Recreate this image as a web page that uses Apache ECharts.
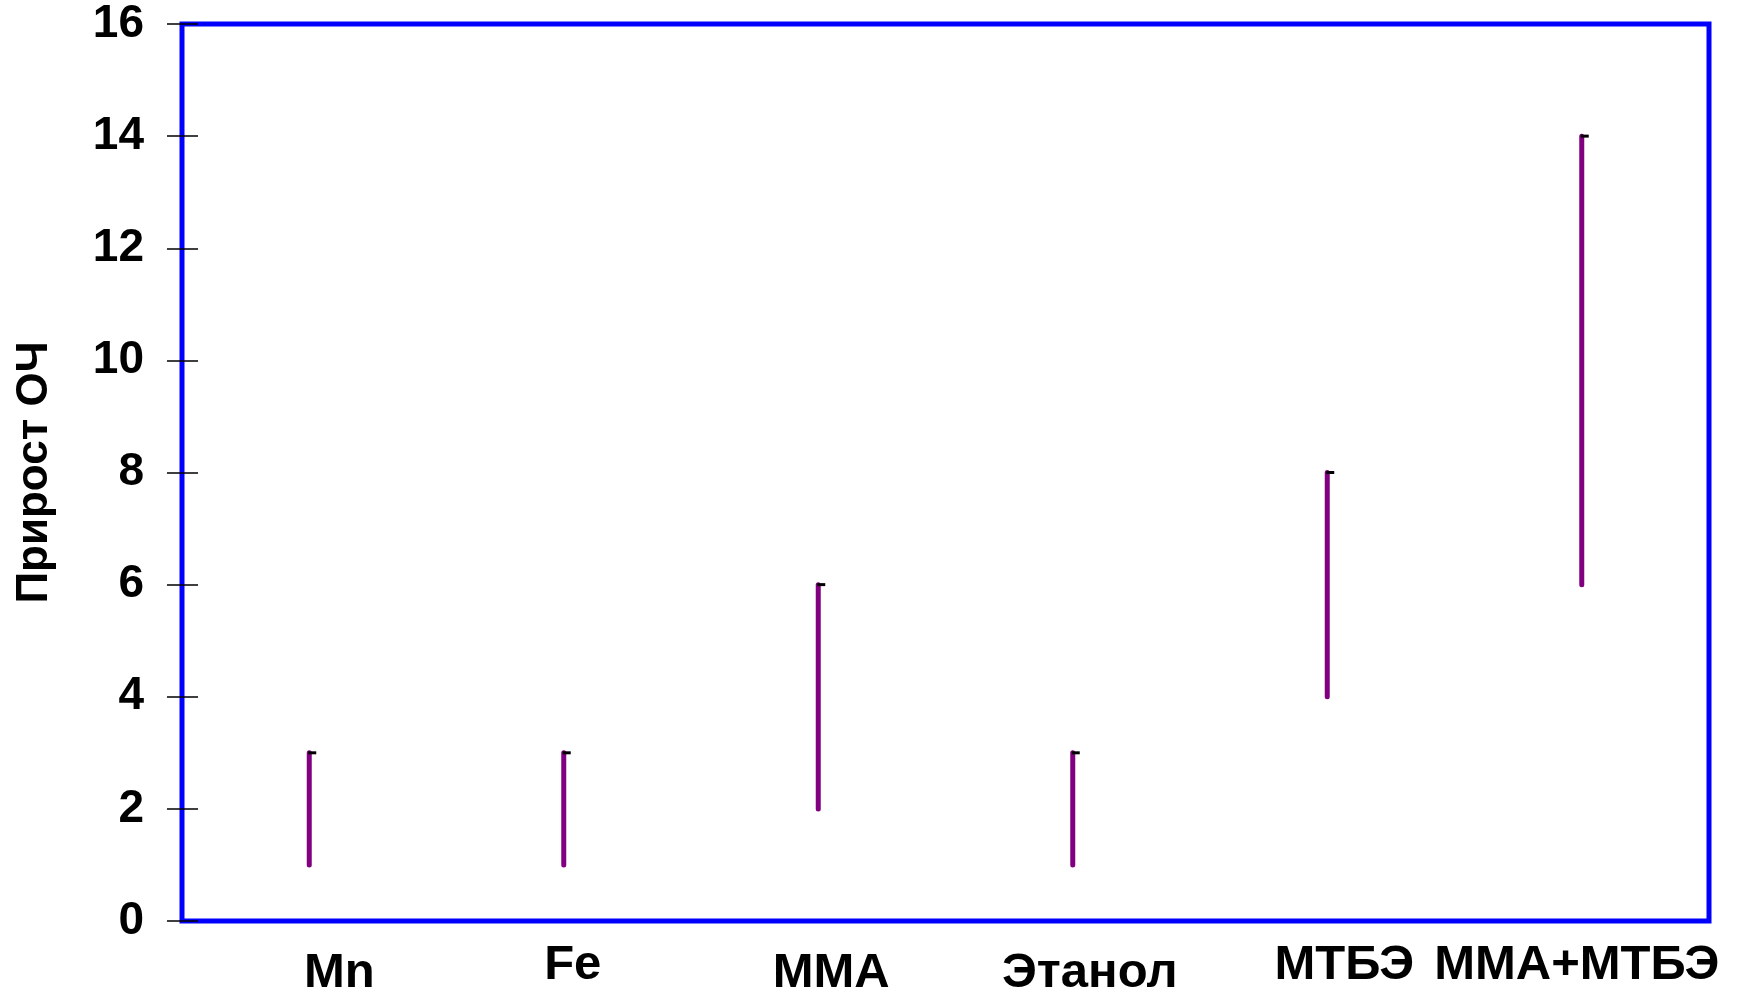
<!DOCTYPE html>
<html>
<head>
<meta charset="utf-8">
<script src="https://cdn.jsdelivr.net/npm/echarts@6/dist/echarts.min.js"></script>
<style>
  html, body { margin: 0; padding: 0; background: #fff; }
  #chart { width: 1740px; height: 994px; }
</style>
</head>
<body>
<div id="chart"></div>
<script>
// categories and high-low ranges (прирост ОЧ)
var categories = ['Mn', 'Fe', 'MMA', 'Этанол', 'МТБЭ', 'MMA+МТБЭ'];
var lowValues = [1, 1, 2, 1, 4, 6];
var highValues = [3, 3, 6, 3, 8, 14];
var yTicks = [0, 2, 4, 6, 8, 10, 12, 14, 16];
var yTitle = 'Прирост ОЧ';

// label nudges, as in the original picture
var labelRich = {
  l0: { padding: [8, 0, 0, 60] },
  l1: { padding: [0, 0, 0, 18] },
  l2: { padding: [8, 0, 0, 26] },
  l3: { padding: [8, 0, 0, 34] },
  l4: { padding: [0, 0, 0, 34] },
  l5: { padding: [0, 10, 0, 0] }
};
Object.keys(labelRich).forEach(function (k) {
  labelRich[k].fontSize = 49;
  labelRich[k].fontWeight = 'bold';
  labelRich[k].color = '#000';
  labelRich[k].fontFamily = '"Liberation Sans", Arial, sans-serif';
});

var rangeData = categories.map(function (c, i) {
  return [i, lowValues[i], highValues[i]];
});

var chart = echarts.init(document.getElementById('chart'));

chart.setOption({
  backgroundColor: '#fff',
  animation: false,
  grid: {
    left: 182,
    top: 24,
    right: 31,
    bottom: 73,
    outerBoundsMode: 'none',
    containLabel: false,
    show: true,
    borderColor: '#0000ff',
    borderWidth: 5
  },
  xAxis: {
    type: 'category',
    data: categories,
    boundaryGap: true,
    axisLine: { show: false },
    axisTick: { show: false },
    axisLabel: {
      margin: 20,
      interval: 0,
      formatter: function (v, i) { return '{l' + i + '|' + v + '}'; },
      rich: labelRich
    }
  },
  yAxis: [{
    type: 'value',
    min: yTicks[0],
    max: yTicks[yTicks.length - 1],
    interval: 2,
    name: yTitle,
    nameLocation: 'middle',
    nameGap: 125,
    nameTextStyle: {
      fontSize: 44,
      fontWeight: 'bold',
      color: '#000',
      fontFamily: '"Liberation Sans", Arial, sans-serif'
    },
    splitLine: { show: false },
    axisLine: { show: false },
    axisTick: { show: true, length: 15, lineStyle: { color: '#000', width: 1.5 } },
    axisLabel: {
      margin: 38,
      fontSize: 46,
      fontWeight: 'bold',
      color: '#000',
      padding: [6, 0, 0, 0],
      fontFamily: '"Liberation Sans", Arial, sans-serif'
    }
  }, {
    type: 'value',
    position: 'left',
    min: yTicks[0],
    max: yTicks[yTicks.length - 1],
    interval: 2,
    splitLine: { show: false },
    axisLine: { show: false },
    axisLabel: { show: false },
    axisTick: { show: true, inside: true, length: 16, lineStyle: { color: '#000', width: 1.5 } }
  }],
  series: [{
    type: 'custom',
    data: rangeData,
    renderItem: function (params, api) {
      var idx = api.value(0);
      var lo = api.coord([idx, api.value(1)]);
      var hi = api.coord([idx, api.value(2)]);
      return {
        type: 'group',
        children: [{
          type: 'line',
          shape: { x1: lo[0], y1: lo[1], x2: hi[0], y2: hi[1] },
          style: { stroke: '#800080', lineWidth: 5, lineCap: 'round' }
        }, {
          type: 'line',
          shape: { x1: hi[0] - 1, y1: hi[1], x2: hi[0] + 7, y2: hi[1] },
          style: { stroke: '#000', lineWidth: 3 }
        }]
      };
    }
  }]
});
</script>
</body>
</html>
